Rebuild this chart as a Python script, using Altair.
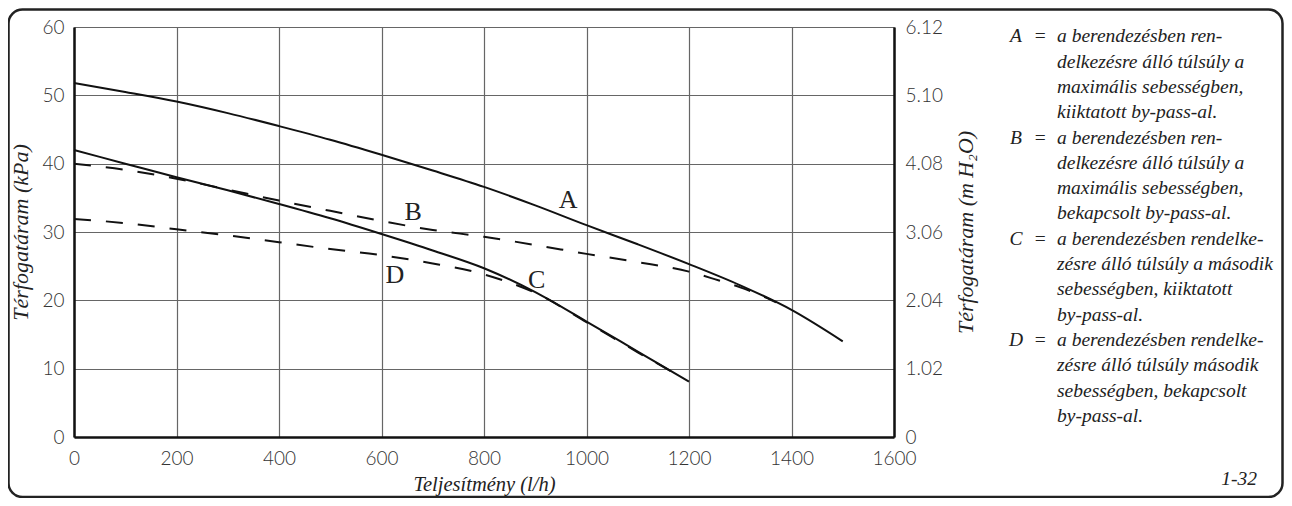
import altair as alt
import pandas as pd

# ---------------- data ----------------
A_x = [0, 100, 200, 300, 400, 500, 600, 700, 800, 900, 1000, 1100, 1200, 1300, 1400, 1500]
A_y = [51.8, 50.5, 49.1, 47.4, 45.5, 43.5, 41.3, 39.0, 36.6, 33.9, 31.0, 28.2, 25.3, 22.2, 18.6, 14.0]

B_x = [0, 100, 200, 300, 400, 500, 600, 700, 800, 900, 1000, 1100, 1200, 1250, 1300, 1350, 1370]
B_y = [40.0, 39.1, 37.8, 36.2, 34.6, 33.1, 31.6, 30.3, 29.3, 28.1, 26.8, 25.6, 24.2, 23.1, 21.9, 20.4, 19.7]

C_x = [0, 100, 200, 300, 400, 500, 600, 700, 800, 900, 1000, 1100, 1200]
C_y = [42.0, 40.0, 38.0, 36.1, 34.1, 32.0, 29.7, 27.3, 24.7, 21.2, 16.9, 12.5, 8.1]

D_x = [0, 100, 200, 300, 400, 500, 600, 700, 800, 850, 900, 1000, 1100, 1170]
D_y = [31.9, 31.3, 30.4, 29.5, 28.5, 27.5, 26.6, 25.4, 23.8, 22.6, 21.1, 16.8, 12.4, 9.4]

label_names = ["A", "B", "C", "D"]
label_x = [964, 662, 903, 626]
label_y = [34.7, 33.0, 23.0, 23.7]

x_ticks = [0, 200, 400, 600, 800, 1000, 1200, 1400, 1600]
y_ticks = [0, 10, 20, 30, 40, 50, 60]
right_ticks = [0, 1.02, 2.04, 3.06, 4.08, 5.10, 6.12]

legend_letters = ["A", "", "", "", "B", "", "", "", "C", "", "", "", "D", "", "", ""]
legend_eq = ["=", "", "", "", "=", "", "", "", "=", "", "", "", "=", "", "", ""]
legend_lines = [
    "a berendezésben ren-",
    "delkezésre álló túlsúly a",
    "maximális sebességben,",
    "kiiktatott by-pass-al.",
    "a berendezésben ren-",
    "delkezésre álló túlsúly a",
    "maximális sebességben,",
    "bekapcsolt by-pass-al.",
    "a berendezésben rendelke-",
    "zésre álló túlsúly a második",
    "sebességben, kiiktatott",
    "by-pass-al.",
    "a berendezésben rendelke-",
    "zésre álló túlsúly második",
    "sebességben, bekapcsolt",
    "by-pass-al.",
]
figure_code = "1-32"

# ---------------- tables ----------------
rows = []
for name, xs, ys in [("A", A_x, A_y), ("B", B_x, B_y), ("C", C_x, C_y), ("D", D_x, D_y)]:
    for xv, yv in zip(xs, ys):
        rows.append({"series": name, "flow": xv, "kpa": yv})
curves = pd.DataFrame(rows)
solid = curves[curves.series.isin(["A", "C"])]
dashed = curves[curves.series.isin(["B", "D"])]
labels = pd.DataFrame({"name": label_names, "flow": label_x, "kpa": label_y})
legend = pd.DataFrame({"row": list(range(len(legend_lines))), "letter": legend_letters,
                       "eq": legend_eq, "text": legend_lines})
right_df = pd.DataFrame({"mh2o": right_ticks})

W, H = 820, 410
SANS = "Lato"
SERIF = "Liberation Serif"
LABEL_COLOR = "#333"

xscale = alt.Scale(domain=[0, 1600], nice=False, zero=False)
yscale = alt.Scale(domain=[0, 60], nice=False)

x_axis = alt.Axis(values=x_ticks, format="d", title="Teljesítmény (l/h)", ticks=False, labelPadding=12,
                  labelFont=SANS, labelFontSize=19, labelFontWeight=300, labelColor=LABEL_COLOR,
                  domainColor="#111", domainWidth=2.5, grid=True, gridColor="#666", gridWidth=1.2,
                  titleFont=SERIF, titleFontStyle="italic", titleFontWeight="normal",
                  titleFontSize=20.5, titleColor="#222", titlePadding=6, labelFlush=False)
y_axis = alt.Axis(values=y_ticks, format="d", title="Térfogatáram (kPa)", ticks=False, labelPadding=10,
                  labelFont=SANS, labelFontSize=19, labelFontWeight=300, labelColor=LABEL_COLOR,
                  domainColor="#111", domainWidth=2.5, grid=True, gridColor="#666", gridWidth=1.2,
                  titleFont=SERIF, titleFontStyle="italic", titleFontWeight="normal",
                  titleFontSize=22, titleColor="#222", titlePadding=9, labelFlush=False)

X = alt.X("flow:Q", scale=xscale, axis=x_axis)
Y = alt.Y("kpa:Q", scale=yscale, axis=y_axis)

solid_layer = alt.Chart(solid).mark_line(color="#111", strokeWidth=2, interpolate="monotone").encode(
    x=X, y=Y, detail="series:N")
dashed_layer = alt.Chart(dashed).mark_line(color="#111", strokeWidth=2, strokeDash=[17, 15],
                                           interpolate="monotone").encode(
    x=alt.X("flow:Q", scale=xscale), y=alt.Y("kpa:Q", scale=yscale), detail="series:N")
label_layer = alt.Chart(labels).mark_text(font=SERIF, fontSize=26, color="#222",
                                          align="center", baseline="middle").encode(
    x=alt.X("flow:Q", scale=xscale), y=alt.Y("kpa:Q", scale=yscale), text="name:N")

kpa_layers = alt.layer(solid_layer, dashed_layer, label_layer)

right_layer = alt.Chart(right_df).mark_point(opacity=0).encode(
    y=alt.Y("mh2o:Q", scale=alt.Scale(domain=[0, 6.12], nice=False),
            axis=alt.Axis(orient="right", values=right_ticks, ticks=False, grid=False,
                          labelPadding=11, labelFont=SANS, labelFontSize=19, labelFontWeight=300,
                          labelColor=LABEL_COLOR, domainColor="#111", domainWidth=2.5,
                          labelExpr="datum.value == 0 ? '0' : format(datum.value, '.2f')",
                          title="Térfogatáram (m H₂O)", titleAngle=270,
                          titleX=71, titleY=H / 2, titleAlign="center", titleBaseline="middle",
                          titleFont=SERIF, titleFontStyle="italic", titleFontWeight="normal",
                          titleFontSize=22, titleColor="#222", labelFlush=False)))

legend_y = alt.Y("row:Q", scale=alt.Scale(domain=[0, 15], range=[9.3, 388.8]), axis=None)
text_style = dict(font=SERIF, fontStyle="italic", fontSize=19.5, color="#222", baseline="middle")
leg_letters = alt.Chart(legend).mark_text(align="center", **text_style).encode(
    x=alt.value(942), y=legend_y, text="letter:N")
leg_eq = alt.Chart(legend).mark_text(align="center", **text_style).encode(
    x=alt.value(966), y=legend_y, text="eq:N")
leg_text = alt.Chart(legend).mark_text(align="left", **text_style).encode(
    x=alt.value(983), y=legend_y, text="text:N")
code_text = alt.Chart(pd.DataFrame({"t": [figure_code]})).mark_text(align="right", **text_style).encode(
    x=alt.value(1183), y=alt.value(452), text="t:N")
legend_layers = alt.layer(leg_letters, leg_eq, leg_text, code_text)

frame = alt.Chart(pd.DataFrame({"f": [0]})).mark_rect(
    fillOpacity=0, stroke="#222", strokeWidth=2.5, cornerRadius=14, clip=False).encode(
    x=alt.value(-65.5), x2=alt.value(1208.5), y=alt.value(-17.5), y2=alt.value(470))

chart = alt.layer(kpa_layers, right_layer, legend_layers, frame).resolve_scale(
    y="independent").properties(
    width=W, height=H,
    padding={"left": 66, "top": 19, "right": 390, "bottom": 61},
    autosize=alt.AutoSizeParams(type="none"),
).configure_view(stroke=None).configure(background="white")

chart.save("out.html", embed_options={"renderer": "svg", "actions": False})
